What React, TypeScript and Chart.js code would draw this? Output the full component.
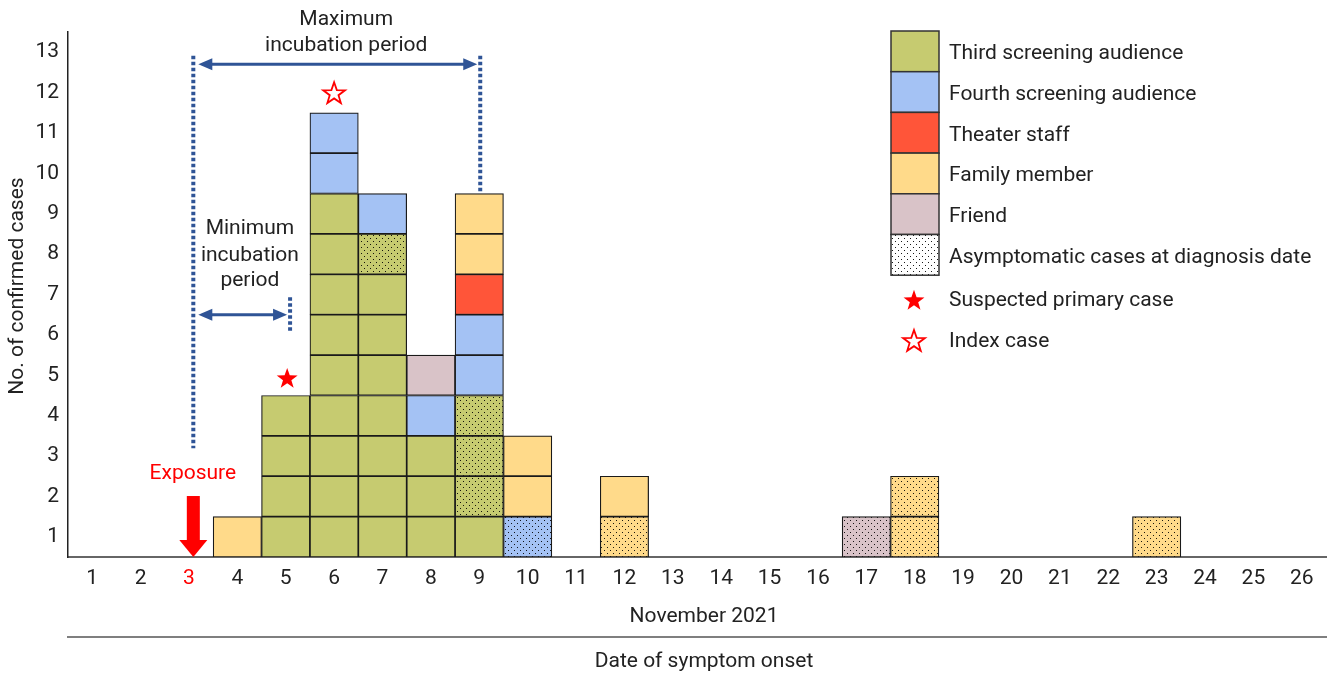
import { useEffect, useRef } from 'react';
import { Chart, registerables } from 'chart.js';

Chart.register(...registerables);

// ---------- data ----------
const days = ['1', '2', '3', '4', '5', '6', '7', '8', '9', '10', '11', '12', '13', '14', '15', '16', '17', '18', '19', '20', '21', '22', '23', '24', '25', '26'];
const yTickLabels = ['1', '2', '3', '4', '5', '6', '7', '8', '9', '10', '11', '12', '13'];

// counts per day of symptom onset (stacked bottom -> top in this order)
const thirdSolid = [0, 0, 0, 0, 4, 9, 7, 3, 1, 0, 0, 0, 0, 0, 0, 0, 0, 0, 0, 0, 0, 0, 0, 0, 0, 0];
const thirdAsym = [0, 0, 0, 0, 0, 0, 1, 0, 3, 0, 0, 0, 0, 0, 0, 0, 0, 0, 0, 0, 0, 0, 0, 0, 0, 0];
const fourthSolid = [0, 0, 0, 0, 0, 2, 1, 1, 2, 0, 0, 0, 0, 0, 0, 0, 0, 0, 0, 0, 0, 0, 0, 0, 0, 0];
const fourthAsym = [0, 0, 0, 0, 0, 0, 0, 0, 0, 1, 0, 0, 0, 0, 0, 0, 0, 0, 0, 0, 0, 0, 0, 0, 0, 0];
const staffSolid = [0, 0, 0, 0, 0, 0, 0, 0, 1, 0, 0, 0, 0, 0, 0, 0, 0, 0, 0, 0, 0, 0, 0, 0, 0, 0];
const familyAsym = [0, 0, 0, 0, 0, 0, 0, 0, 0, 0, 0, 1, 0, 0, 0, 0, 0, 2, 0, 0, 0, 0, 1, 0, 0, 0];
const familySolid = [0, 0, 0, 1, 0, 0, 0, 0, 2, 2, 0, 1, 0, 0, 0, 0, 0, 0, 0, 0, 0, 0, 0, 0, 0, 0];
const friendAsym = [0, 0, 0, 0, 0, 0, 0, 0, 0, 0, 0, 0, 0, 0, 0, 0, 1, 0, 0, 0, 0, 0, 0, 0, 0, 0];
const friendSolid = [0, 0, 0, 0, 0, 0, 0, 1, 0, 0, 0, 0, 0, 0, 0, 0, 0, 0, 0, 0, 0, 0, 0, 0, 0, 0];

const legendLabels = [
  'Third screening audience',
  'Fourth screening audience',
  'Theater staff',
  'Family member',
  'Friend',
  'Asymptomatic cases at diagnosis date',
  'Suspected primary case',
  'Index case',
];

// annotation anchors (category index, value units)
const EXPOSURE_IDX = 2.09;
const MAX_END_IDX = 8.02;
const MIN_END_IDX = 4.09;
const SUSPECTED_IDX = 4.03;
const INDEX_CASE_IDX = 5.0;

// ---------- styles ----------
const C_THIRD = '#C6CB70';
const C_FOURTH = '#A4C2F4';
const C_STAFF = '#FF5539';
const C_FAMILY = '#FFDA8A';
const C_FRIEND = '#D9C3C8';
const C_BLUE = '#2F5496';
const C_TEXT = '#222222';
const FONT = 'Roboto';
const FS = 21;

function dotPattern(base: string): CanvasPattern | string {
  const c = document.createElement('canvas');
  c.width = 6;
  c.height = 6;
  const g = c.getContext('2d');
  if (!g) return base;
  g.fillStyle = base;
  g.fillRect(0, 0, 6, 6);
  g.fillStyle = 'rgba(0,0,0,0.9)';
  g.fillRect(1, 1, 1, 1);
  g.fillRect(4, 4, 1, 1);
  return g.createPattern(c, 'repeat') || base;
}

function starPath(ctx: CanvasRenderingContext2D, cx: number, cy: number, R: number, r: number) {
  ctx.beginPath();
  for (let i = 0; i < 10; i++) {
    const rad = i % 2 === 0 ? R : r;
    const a = -Math.PI / 2 + (i * Math.PI) / 5;
    const px = cx + rad * Math.cos(a);
    const py = cy + rad * Math.sin(a);
    if (i === 0) ctx.moveTo(px, py);
    else ctx.lineTo(px, py);
  }
  ctx.closePath();
}

function arrowHead(ctx: CanvasRenderingContext2D, tipX: number, tipY: number, dir: number) {
  ctx.beginPath();
  ctx.moveTo(tipX, tipY);
  ctx.lineTo(tipX - dir * 14, tipY - 6);
  ctx.lineTo(tipX - dir * 14, tipY + 6);
  ctx.closePath();
  ctx.fill();
}

function dotted(ctx: CanvasRenderingContext2D, x: number, y1: number, y2: number) {
  ctx.save();
  ctx.strokeStyle = C_BLUE;
  ctx.lineWidth = 4;
  ctx.setLineDash([3.5, 2.5]);
  ctx.beginPath();
  ctx.moveTo(x, y1);
  ctx.lineTo(x, y2);
  ctx.stroke();
  ctx.restore();
}

function doubleArrow(ctx: CanvasRenderingContext2D, x1: number, x2: number, y: number) {
  ctx.save();
  ctx.strokeStyle = C_BLUE;
  ctx.fillStyle = C_BLUE;
  ctx.lineWidth = 3;
  ctx.beginPath();
  ctx.moveTo(x1 + 10, y);
  ctx.lineTo(x2 - 10, y);
  ctx.stroke();
  arrowHead(ctx, x1, y, -1);
  arrowHead(ctx, x2, y, 1);
  ctx.restore();
}

const overlayPlugin = {
  id: 'overlay',
  afterDraw(chart: any) {
    const { ctx } = chart;
    const xs = chart.scales.x;
    const ys = chart.scales.y;
    const X = (v: number) => xs.getPixelForValue(v);
    const Y = (v: number) => ys.getPixelForValue(v);
    ctx.save();

    // incubation period annotations
    const xl = X(EXPOSURE_IDX);
    const xr = X(MAX_END_IDX);
    const xm = X(MIN_END_IDX);
    dotted(ctx, xl, Y(12.41), Y(2.69));
    dotted(ctx, xr, Y(12.41), Y(9.03));
    dotted(ctx, xm, Y(6.43), Y(5.56));
    doubleArrow(ctx, xl + 5, xr - 3, Y(12.2));
    doubleArrow(ctx, xl + 5, xm - 3, Y(6.0));

    ctx.fillStyle = C_TEXT;
    ctx.font = `${FS}px ${FONT}`;
    ctx.textAlign = 'center';
    ctx.textBaseline = 'middle';
    ctx.fillText('Maximum', X(5.25), Y(13.3));
    ctx.fillText('incubation period', X(5.25), Y(12.66));
    ctx.fillText('Minimum', X(3.26), Y(8.12));
    ctx.fillText('incubation', X(3.26), Y(7.46));
    ctx.fillText('period', X(3.26), Y(6.84));

    // exposure
    ctx.fillStyle = '#FF0000';
    ctx.fillText('Exposure', X(2.08), Y(2.06));
    const ex = X(EXPOSURE_IDX);
    ctx.fillRect(ex - 6.5, Y(1.51), 13, Y(0.38) - Y(1.51));
    ctx.beginPath();
    ctx.moveTo(ex - 14, Y(0.42));
    ctx.lineTo(ex + 14, Y(0.42));
    ctx.lineTo(ex, Y(0));
    ctx.closePath();
    ctx.fill();

    // stars
    ctx.fillStyle = '#FF0000';
    starPath(ctx, X(SUSPECTED_IDX), Y(4.41), 11, 4.4);
    ctx.fill();
    starPath(ctx, X(INDEX_CASE_IDX), Y(11.47), 11.5, 4.6);
    ctx.fillStyle = '#FFFFFF';
    ctx.fill();
    ctx.strokeStyle = '#FF0000';
    ctx.lineWidth = 1.8;
    ctx.stroke();

    // legend
    const lx = 891;
    const ly = 31;
    const bw = 48;
    const bh = 40.7;
    const fills: (string | CanvasPattern)[] = [C_THIRD, C_FOURTH, C_STAFF, C_FAMILY, C_FRIEND, dotPattern('#FFFFFF')];
    fills.forEach((f, i) => {
      ctx.fillStyle = f;
      ctx.fillRect(lx, ly + i * bh, bw, bh);
      ctx.strokeStyle = '#333333';
      ctx.lineWidth = 1.5;
      ctx.strokeRect(lx, ly + i * bh, bw, bh);
    });
    ctx.fillStyle = '#FF0000';
    starPath(ctx, lx + 23, ly + 6.63 * bh, 11, 4.4);
    ctx.fill();
    starPath(ctx, lx + 23, ly + 7.63 * bh, 11.5, 4.6);
    ctx.fillStyle = '#FFFFFF';
    ctx.fill();
    ctx.strokeStyle = '#FF0000';
    ctx.lineWidth = 1.8;
    ctx.stroke();

    ctx.fillStyle = C_TEXT;
    ctx.font = `${FS}px ${FONT}`;
    ctx.textAlign = 'left';
    ctx.textBaseline = 'middle';
    legendLabels.forEach((t, i) => {
      const off = i >= 6 ? 0.1 : 0.04;
      ctx.fillText(t, lx + 58, ly + (i + 0.5 + off) * bh + 1);
    });

    // x axis titles and separator
    ctx.textAlign = 'center';
    ctx.fillText('November 2021', 704, 617);
    ctx.fillText('Date of symptom onset', 704, 662);
    ctx.strokeStyle = '#555555';
    ctx.lineWidth = 1.6;
    ctx.beginPath();
    ctx.moveTo(67, 637);
    ctx.lineTo(1327, 637);
    ctx.stroke();

    // y title
    ctx.save();
    ctx.translate(18, 286);
    ctx.rotate(-Math.PI / 2);
    ctx.fillText('No. of confirmed cases', 0, 0);
    ctx.restore();

    ctx.restore();
  },
};

export default function App() {
  const ref = useRef<HTMLCanvasElement | null>(null);

  useEffect(() => {
    document.body.style.margin = '0';
    const canvas = ref.current;
    if (!canvas) return;

    const series = [
      { counts: thirdSolid, color: C_THIRD, dots: false },
      { counts: thirdAsym, color: C_THIRD, dots: true },
      { counts: fourthSolid, color: C_FOURTH, dots: false },
      { counts: fourthAsym, color: C_FOURTH, dots: true },
      { counts: staffSolid, color: C_STAFF, dots: false },
      { counts: familyAsym, color: C_FAMILY, dots: true },
      { counts: familySolid, color: C_FAMILY, dots: false },
      { counts: friendAsym, color: C_FRIEND, dots: true },
      { counts: friendSolid, color: C_FRIEND, dots: false },
    ];

    const datasets: any[] = [];
    series.forEach((s) => {
      const max = Math.max(...s.counts);
      const bg = s.dots ? dotPattern(s.color) : s.color;
      for (let j = 0; j < max; j++) {
        datasets.push({
          data: s.counts.map((c) => (c > j ? 1 : null)),
          backgroundColor: bg,
          borderColor: '#1a1a1a',
          borderWidth: 1.2,
          borderSkipped: false,
          barPercentage: 1,
          categoryPercentage: 1,
          stack: 'cases',
        });
      }
    });

    const chart = new Chart(canvas, {
      type: 'bar',
      data: { labels: days, datasets },
      options: {
        responsive: false,
        animation: false,
        devicePixelRatio: 1,
        events: [],
        layout: { padding: { top: 32, right: 1, left: 0, bottom: 0 } },
        plugins: { legend: { display: false }, tooltip: { enabled: false } },
        scales: {
          x: {
            stacked: true,
            grid: { display: false, drawTicks: false },
            border: { display: true, color: '#666666', width: 2 },
            ticks: {
              autoSkip: false,
              maxRotation: 0,
              padding: 9,
              font: { family: FONT, size: FS },
              color: (c: any) => (c.index === 2 ? '#FF0000' : C_TEXT),
            },
            afterFit: (s: any) => {
              s.height = 117;
            },
          },
          y: {
            stacked: true,
            min: 0,
            max: 13,
            grid: { display: false, drawTicks: false },
            border: { display: true, color: '#222222', width: 1.5 },
            ticks: {
              autoSkip: false,
              padding: 9,
              font: { family: FONT, size: FS },
              color: C_TEXT,
              callback: (_v: any, i: number) => yTickLabels[i],
            },
            afterBuildTicks: (s: any) => {
              s.ticks = yTickLabels.map((_t, i) => ({ value: i + 0.5 }));
            },
            afterFit: (s: any) => {
              s.width = 68;
            },
          },
        },
      },
      plugins: [overlayPlugin],
    });

    return () => chart.destroy();
  }, []);

  return (
    <div style={{ width: 1327, height: 674 }}>
      <canvas ref={ref} width={1327} height={674} style={{ display: 'block', width: 1327, height: 674 }} />
    </div>
  );
}
